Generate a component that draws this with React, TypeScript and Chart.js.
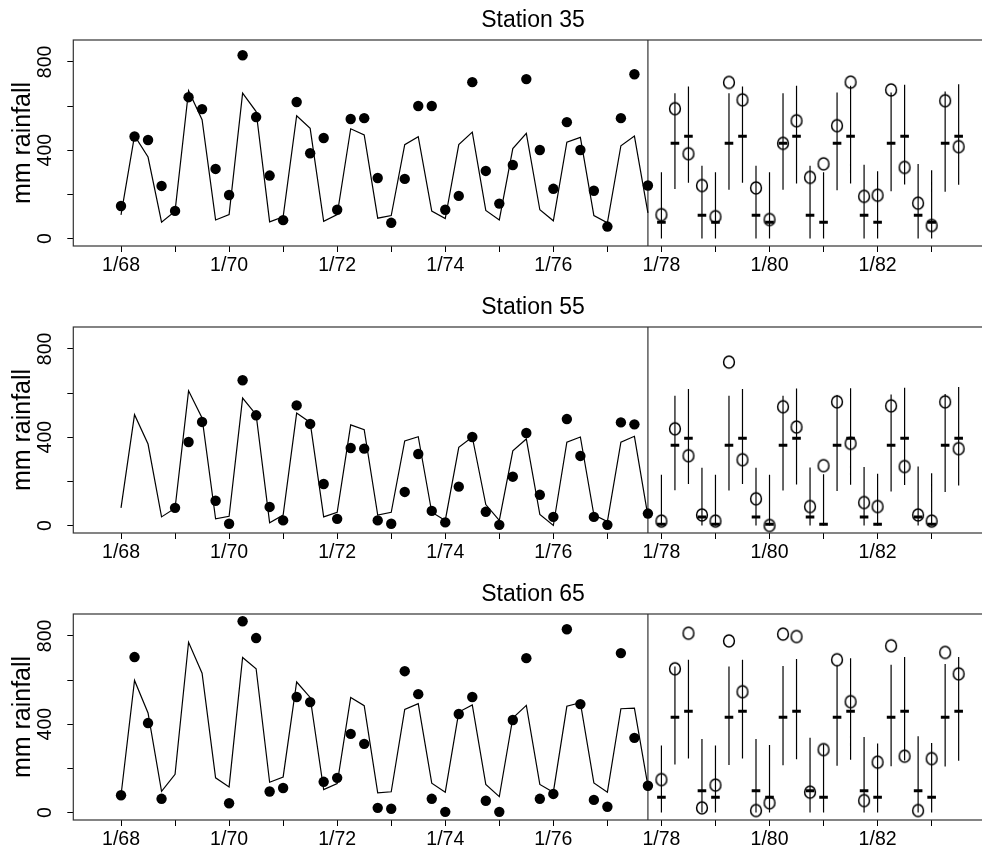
import React, { useEffect, useRef } from 'react';
import { Chart, registerables } from 'chart.js';

Chart.register(...registerables);

// ---------- data ----------
const FIRST_YEAR = 1968;
const N_OBS = 40; // quarterly, 1968.00 .. 1977.75
const N_PRED = 23; // quarterly, 1978.00 .. 1983.50
const SPLIT_TIME = 1977.75;

const obsTimes: number[] = Array.from({ length: N_OBS }, (_, i) => FIRST_YEAR + i / 4);
const predTimes: number[] = Array.from({ length: N_PRED }, (_, j) => FIRST_YEAR + (N_OBS + j) / 4);

const xTickYears = [1968, 1969, 1970, 1971, 1972, 1973, 1974, 1975, 1976, 1977, 1978, 1979, 1980, 1981, 1982, 1983];
const xTickLabels = ['1/68', '', '1/70', '', '1/72', '', '1/74', '', '1/76', '', '1/78', '', '1/80', '', '1/82', ''];
const yTickValues = [0, 200, 400, 600, 800];
const yTickLabels = ['0', '', '400', '', '800'];

const stationNames = ['Station 35', 'Station 55', 'Station 65'];

// Station 35
const obs35 = [147, 462, 446, 238, 125, 640, 586, 315, 197, 830, 550, 285, 83, 618, 386, 455, 130, 541, 545, 274, 71, 270, 600, 600, 130, 193, 708, 306, 158, 333, 722, 401, 225, 527, 401, 216, 54, 545, 744, 240];
const fit35 = [107, 466, 369, 74, 124, 669, 538, 84, 108, 658, 575, 75, 98, 556, 499, 78, 108, 497, 469, 92, 104, 425, 461, 124, 90, 425, 482, 127, 84, 407, 476, 130, 80, 436, 458, 104, 71, 420, 464, 116];
const mean35 = [74, 431, 463, 105, 74, 431, 463, 105, 74, 431, 463, 105, 74, 431, 463, 105, 74, 431, 463, 105, 74, 431, 463];
const lo35 = [0, 224, 252, 0, 0, 221, 252, 0, 0, 221, 249, 0, 0, 218, 249, 0, 0, 214, 244, 0, 0, 212, 243];
const hi35 = [300, 658, 688, 330, 300, 658, 688, 330, 300, 658, 692, 330, 300, 661, 692, 334, 304, 661, 696, 337, 309, 666, 699];
const new35 = [108, 588, 384, 240, 99, 707, 628, 229, 86, 431, 533, 277, 338, 511, 708, 191, 196, 673, 322, 160, 59, 624, 416];

// Station 55
const obs55 = [null, null, null, null, 80, 378, 469, 112, 8, 658, 499, 84, 23, 544, 460, 188, 30, 351, 348, 23, 8, 152, 324, 66, 14, 176, 401, 62, 3, 221, 419, 139, 39, 482, 315, 39, 3, 467, 458, 54];
const fit55 = [80, 502, 369, 39, 78, 610, 487, 30, 42, 577, 502, 12, 47, 509, 467, 39, 60, 456, 434, 47, 60, 383, 402, 60, 23, 354, 401, 95, 23, 338, 392, 50, 0, 377, 401, 48, 18, 377, 404, 42];
const mean55 = [6, 363, 395, 38, 6, 363, 395, 38, 6, 363, 395, 38, 6, 363, 395, 38, 6, 363, 395, 38, 6, 363, 395];
const lo55 = [0, 160, 188, 0, 0, 158, 188, 0, 0, 158, 186, 0, 0, 156, 185, 0, 0, 154, 183, 0, 0, 152, 181];
const hi55 = [230, 588, 618, 261, 230, 588, 618, 261, 230, 588, 620, 263, 232, 591, 622, 265, 234, 593, 624, 267, 237, 596, 627];
const new55 = [20, 438, 316, 48, 20, 740, 298, 121, 0, 538, 446, 86, 271, 560, 372, 104, 86, 542, 267, 48, 20, 560, 348];

// Station 65
const obs65 = [78, 704, 405, 62, null, null, null, null, 42, 866, 790, 95, 111, 523, 500, 139, 157, 356, 311, 21, 17, 640, 536, 62, 3, 446, 523, 53, 3, 419, 699, 62, 84, 830, 491, 57, 26, 722, 338, 121];
const fit65 = [78, 598, 451, 96, 173, 771, 631, 157, 116, 702, 651, 137, 161, 591, 521, 104, 131, 521, 484, 89, 94, 467, 493, 133, 92, 455, 487, 127, 72, 428, 485, 127, 92, 481, 497, 134, 92, 470, 473, 121];
const mean65 = [69, 431, 458, 99, 69, 431, 458, 99, 69, 431, 458, 99, 69, 431, 458, 99, 69, 431, 458, 99, 69, 431, 458];
const lo65 = [0, 217, 244, 0, 0, 215, 244, 0, 0, 214, 241, 0, 0, 212, 239, 0, 0, 210, 236, 0, 0, 208, 234];
const hi65 = [303, 661, 692, 333, 303, 661, 692, 333, 306, 664, 695, 338, 309, 666, 699, 342, 312, 669, 704, 345, 315, 672, 704];
const new65 = [149, 651, 812, 21, 124, 777, 547, 9, 44, 808, 797, 92, 285, 692, 502, 54, 228, 755, 255, 9, 244, 725, 628];

const stationObs = [obs35, obs55, obs65];
const stationFit = [fit35, fit55, fit65];
const stationMean = [mean35, mean55, mean65];
const stationLo = [lo35, lo55, lo65];
const stationHi = [hi35, hi55, hi65];
const stationNew = [new35, new55, new65];

// ---------- layout / style ----------
const FONT = '"Liberation Sans", Arial, Helvetica, sans-serif';
const CANVAS_W = 1066;
const AREA_RIGHT = 992.7;
const PANEL_H = 287;
const X_MIN = 1967.117;
const X_MAX = 1984.13;
const Y_MIN = -34;
const Y_MAX = 899;

function makeOMarker(): HTMLCanvasElement {
  const c = document.createElement('canvas');
  c.width = 16;
  c.height = 18;
  const g = c.getContext('2d')!;
  g.strokeStyle = '#000';
  g.lineWidth = 1.5;
  g.beginPath();
  g.ellipse(8, 9, 5.4, 6.1, 0, 0, Math.PI * 2);
  g.stroke();
  return c;
}

const framePlugin = {
  id: 'frame',
  beforeDatasetsDraw(chart: any) {
    const { ctx, chartArea: a, scales } = chart;
    ctx.save();
    ctx.strokeStyle = '#333';
    ctx.lineWidth = 1.2;
    ctx.strokeRect(a.left, a.top, a.right - a.left, a.bottom - a.top);
    const px = scales.x.getPixelForValue(SPLIT_TIME);
    ctx.beginPath();
    ctx.moveTo(px, a.top);
    ctx.lineTo(px, a.bottom);
    ctx.stroke();
    ctx.restore();
  },
};

function buildConfig(k: number, oMarker: HTMLCanvasElement): any {
  const obs = stationObs[k];
  const fit = stationFit[k];
  const mean = stationMean[k];
  const lo = stationLo[k];
  const hi = stationHi[k];
  const nw = stationNew[k];

  const intervalData: any[] = [];
  predTimes.forEach((t, j) => {
    intervalData.push({ x: t, y: lo[j] });
    intervalData.push({ x: t, y: hi[j] });
    intervalData.push({ x: t, y: null });
  });

  return {
    type: 'line',
    data: {
      datasets: [
        {
          label: 'new observations',
          data: predTimes.map((t, j) => ({ x: t, y: nw[j] })),
          showLine: false,
          pointStyle: oMarker,
          pointRadius: 6,
          borderColor: '#000',
          backgroundColor: 'rgba(0,0,0,0)',
        },
        {
          label: 'predicted mean',
          data: predTimes.map((t, j) => ({ x: t, y: mean[j] })),
          showLine: false,
          pointStyle: 'line',
          pointRadius: 4.3,
          pointBorderWidth: 3,
          borderColor: '#000',
          pointBorderColor: '#000',
        },
        {
          label: 'interval',
          data: intervalData,
          spanGaps: false,
          borderColor: '#000',
          borderWidth: 1.2,
          pointRadius: 0,
        },
        {
          label: 'observed',
          data: obsTimes.map((t, i) => ({ x: t, y: obs[i] })),
          showLine: false,
          pointStyle: 'circle',
          pointRadius: 5.2,
          pointBorderWidth: 0,
          pointBackgroundColor: '#000',
          borderColor: '#000',
        },
        {
          label: 'fitted',
          data: obsTimes.map((t, i) => ({ x: t, y: fit[i] })),
          borderColor: '#000',
          borderWidth: 1.2,
          pointRadius: 0,
          tension: 0,
        },
      ],
    },
    options: {
      responsive: false,
      animation: false,
      devicePixelRatio: 1,
      events: [],
      layout: { autoPadding: false, padding: { left: 0, right: CANVAS_W - AREA_RIGHT, top: 0, bottom: 0 } },
      plugins: {
        legend: { display: false },
        tooltip: { enabled: false },
        title: {
          display: true,
          text: stationNames[k],
          fullSize: false,
          color: '#000',
          font: { family: FONT, size: 23, weight: 'normal', lineHeight: 1.2 },
          padding: { top: 6.5, bottom: 5.9 },
        },
      },
      scales: {
        x: {
          type: 'linear',
          min: X_MIN,
          max: X_MAX,
          offset: false,
          afterBuildTicks: (s: any) => {
            s.ticks = xTickYears.map((v) => ({ value: v }));
          },
          afterFit: (s: any) => {
            s.height = 41;
          },
          ticks: {
            autoSkip: false,
            maxRotation: 0,
            minRotation: 0,
            padding: 2.3,
            color: '#000',
            font: { family: FONT, size: 19.5 },
            callback: (_v: any, i: number) => xTickLabels[i],
          },
          grid: { drawOnChartArea: false, drawTicks: true, tickLength: 6, color: '#000', offset: false },
          border: { display: false },
        },
        y: {
          type: 'linear',
          min: Y_MIN,
          max: Y_MAX,
          afterBuildTicks: (s: any) => {
            s.ticks = yTickValues.map((v) => ({ value: v }));
          },
          afterFit: (s: any) => {
            s.width = 73.3;
          },
          ticks: {
            autoSkip: false,
            minRotation: 90,
            maxRotation: 90,
            crossAlign: 'center',
            padding: 5,
            color: '#000',
            font: { family: FONT, size: 19.5 },
            callback: (_v: any, i: number) => yTickLabels[i],
          },
          grid: { drawOnChartArea: false, drawTicks: true, tickLength: 6, color: '#000' },
          border: { display: false },
          title: {
            display: true,
            text: 'mm rainfall',
            color: '#000',
            font: { family: FONT, size: 25, lineHeight: 1.2 },
            padding: { top: 8, bottom: 0 },
          },
        },
      },
    },
    plugins: [framePlugin],
  };
}

export default function App() {
  const refs = [useRef<HTMLCanvasElement>(null), useRef<HTMLCanvasElement>(null), useRef<HTMLCanvasElement>(null)];

  useEffect(() => {
    const oMarker = makeOMarker();
    const charts = refs.map((r, k) => new Chart(r.current as HTMLCanvasElement, buildConfig(k, oMarker)));
    return () => charts.forEach((c) => c.destroy());
  }, []);

  return (
    <div style={{ position: 'fixed', left: 0, top: 0, width: 982, height: 851, overflow: 'hidden', background: '#fff' }}>
      {stationNames.map((name, k) => (
        <canvas
          key={name}
          ref={refs[k]}
          width={CANVAS_W}
          height={PANEL_H}
          style={{ position: 'absolute', left: 0, top: k * PANEL_H, width: CANVAS_W, height: PANEL_H }}
        />
      ))}
    </div>
  );
}
